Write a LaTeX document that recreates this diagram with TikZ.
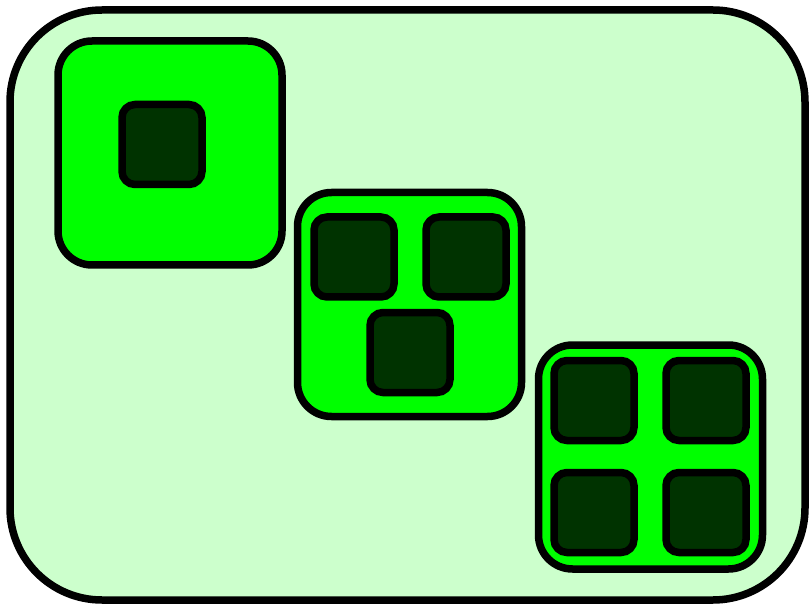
\documentclass[tikz,border=0pt]{standalone}
\usepackage{tikz}
\definecolor{lightg}{HTML}{CCFFCC}
\definecolor{brightg}{HTML}{00FF00}
\definecolor{darkg}{HTML}{003300}
\begin{document}
\begin{tikzpicture}[x=1pt,y=-1pt,
  outerbox/.style={draw=black,fill=lightg,line width=7.5pt,rounded corners=92pt,rectangle,inner sep=0pt,minimum width=795pt,minimum height=590pt},
  groupbox/.style={draw=black,fill=brightg,line width=7.5pt,rounded corners=34pt,rectangle,inner sep=0pt,minimum width=224pt,minimum height=224pt},
  cellbox/.style={draw=black,fill=darkg,line width=7.5pt,rounded corners=13pt,rectangle,inner sep=0pt,minimum width=80pt,minimum height=80pt}]
\useasboundingbox (0,0) rectangle (809,604);
\node[outerbox] (outer) at (407.5,305) {};
\node[groupbox] (g1) at (170,153) {};
\node[groupbox] (g2) at (409.5,304.5) {};
\node[groupbox] (g3) at (650.5,457) {};
\node[cellbox] (c1) at (162,144.5) {};
\node[cellbox] (c2a) at (354,257) {};
\node[cellbox] (c2b) at (466,257) {};
\node[cellbox] (c2c) at (410,352.5) {};
\node[cellbox] (c3a) at (594,400.5) {};
\node[cellbox] (c3b) at (706,400.5) {};
\node[cellbox] (c3c) at (594,512.5) {};
\node[cellbox] (c3d) at (706,512.5) {};
\end{tikzpicture}
\end{document}
